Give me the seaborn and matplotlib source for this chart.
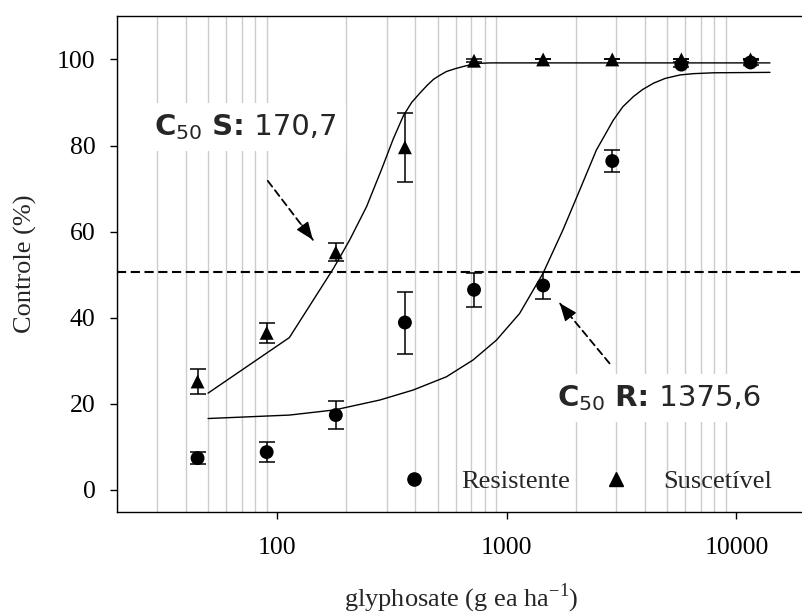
import matplotlib
matplotlib.use("Agg")
import matplotlib.pyplot as plt
import numpy as np
import pandas as pd
import seaborn as sns
from matplotlib.lines import Line2D
from matplotlib.offsetbox import AnnotationBbox, HPacker, TextArea
from matplotlib.ticker import FixedLocator, LogLocator, NullFormatter

# ---------------------------------------------------------------------------
# data
# ---------------------------------------------------------------------------
doses = [45, 90, 180, 360, 720, 1440, 2880, 5760, 11520]

res_mean = [7.4, 8.8, 17.4, 38.9, 46.5, 47.5, 76.4, 98.8, 99.3]
res_err = [1.4, 2.4, 3.2, 7.2, 3.9, 3.2, 2.5, 0.6, 0.5]

sus_mean = [25.2, 36.5, 55.2, 79.6, 99.7, 100.0, 100.0, 100.0, 100.0]
sus_err = [2.8, 2.3, 2.1, 8.0, 0.4, 0.0, 0.0, 0.0, 0.0]

# fitted dose-response curves
sus_curve_x = [50, 113, 176, 207, 245, 285, 320, 355, 385, 417, 450, 480,
               510, 546, 600, 650, 700, 761, 850, 14000]
sus_curve_y = [22.5, 35.4, 51.5, 58.1, 65.8, 74.5, 81.5, 87.0, 90.0, 92.1,
               94.0, 95.4, 96.3, 97.2, 97.9, 98.4, 98.8, 99.1, 99.2, 99.2]

res_curve_x = [50, 113, 178, 280, 390, 546, 713, 901, 1137, 1437, 1756,
               2079, 2458, 2910, 3200, 3563, 3900, 4360, 4900, 5680, 6500,
               7940, 14000]
res_curve_y = [16.6, 17.4, 18.6, 20.9, 23.2, 26.3, 30.2, 34.8, 41.0, 50.3,
               60.4, 69.7, 79.0, 85.9, 89.0, 91.4, 93.0, 94.5, 95.6, 96.4,
               96.7, 96.9, 97.0]

c50_level = 50.6
labels = ["Resistente", "Suscetível"]

# ---------------------------------------------------------------------------
# style
# ---------------------------------------------------------------------------
sns.set_theme(style="ticks")
plt.rcParams["font.family"] = ["Liberation Serif", "DejaVu Serif"]
plt.rcParams["mathtext.fontset"] = "custom"
plt.rcParams["mathtext.rm"] = "Liberation Serif"
plt.rcParams["mathtext.sf"] = "DejaVu Sans"
plt.rcParams["mathtext.bf"] = "DejaVu Sans:bold"

fig = plt.figure(figsize=(8.02, 6.14), dpi=100)
ax = fig.add_axes([0.1455, 0.1669, 0.8589, 0.8064])

# fitted curves
curves = pd.concat([
    pd.DataFrame({"dose": sus_curve_x, "ctrl": sus_curve_y, "grp": "S"}),
    pd.DataFrame({"dose": res_curve_x, "ctrl": res_curve_y, "grp": "R"}),
])
sns.lineplot(data=curves, x="dose", y="ctrl", units="grp", estimator=None,
             color="black", lw=1.0, sort=False, ax=ax, zorder=3)

# C50 reference line
ax.axhline(c50_level, color="black", lw=1.5, ls=(0, (4.4, 2.2)), zorder=2)

# observed means with error bars
ax.errorbar(doses, res_mean, yerr=res_err, fmt="none", ecolor="black",
            elinewidth=1.1, capsize=6, capthick=1.1, zorder=4)
ax.errorbar(doses, sus_mean, yerr=sus_err, fmt="none", ecolor="black",
            elinewidth=1.1, capsize=6, capthick=1.1, zorder=4)
pts = pd.DataFrame({
    "dose": doses * 2,
    "ctrl": res_mean + sus_mean,
    "grp": [labels[0]] * len(doses) + [labels[1]] * len(doses),
})
sns.scatterplot(data=pts, x="dose", y="ctrl", style="grp",
                markers={labels[0]: "o", labels[1]: "^"}, color="black",
                s=100, edgecolor="none", legend=False, ax=ax, zorder=5)

# axes
ax.set_xscale("log")
ax.set_xlim(20, 20000)
ax.set_ylim(-5, 110)
ax.xaxis.set_major_locator(FixedLocator([100, 1000, 10000]))
ax.set_xticklabels(["100", "1000", "10000"])
ax.xaxis.set_minor_locator(LogLocator(base=10, subs=np.arange(2, 10)))
ax.xaxis.set_minor_formatter(NullFormatter())
ax.set_yticks([0, 20, 40, 60, 80, 100])
ax.grid(which="minor", axis="x", color="#cccccc", lw=1.0, zorder=0)
ax.grid(which="major", visible=False)
ax.tick_params(axis="x", which="minor", length=0)
ax.tick_params(axis="x", which="major", direction="out", length=5.3,
               width=1.0, labelsize=18.5, pad=13, colors="black")
ax.tick_params(axis="y", direction="out", length=5.3, width=1.0,
               labelsize=18.5, pad=10, colors="black")
for side in ["left", "bottom", "top"]:
    ax.spines[side].set_color("black")
    ax.spines[side].set_linewidth(1.0)
ax.spines["right"].set_visible(False)

ax.set_xlabel(r"glyphosate (g ea ha$^{\mathrm{-1}}$)", fontsize=19, labelpad=16)
ax.set_ylabel("Controle (%)", fontsize=19, labelpad=14)


# C50 labels (white boxes hide the grid behind them) and arrows
def c50_label(letter, value, xy):
    fs = 21
    parts = [
        TextArea(r"$\mathbf{C}_{\mathsf{50}}$", textprops=dict(fontsize=fs)),
        TextArea(" " + letter + ":", textprops=dict(fontsize=fs, family="DejaVu Sans",
                                                    weight="bold")),
        TextArea(" " + value, textprops=dict(fontsize=fs, family="DejaVu Sans")),
    ]
    pack = HPacker(children=parts, align="baseline", pad=0, sep=0)
    ab = AnnotationBbox(pack, xy, xycoords="data", frameon=True,
                        box_alignment=(0.5, 0.5), pad=0.42, fontsize=fs,
                        bboxprops=dict(boxstyle="square", fc="white", ec="none"),
                        zorder=3)
    ax.add_artist(ab)


def dashed_arrow(tail, tip, head_from):
    # dashed shaft, then a solid filled head on the last stretch
    ax.annotate("", xy=tip, xytext=tail, zorder=6,
                arrowprops=dict(arrowstyle="-", color="black", lw=1.3,
                                ls=(0, (4, 2.5)), shrinkA=0, shrinkB=0))
    ax.annotate("", xy=tip, xytext=head_from, zorder=6,
                arrowprops=dict(arrowstyle="-|>,head_length=0.55,head_width=0.22",
                                color="black", lw=1.0, mutation_scale=20,
                                shrinkA=0, shrinkB=0))


c50_label("S", "170,7", (73, 84.3))
c50_label("R", "1375,6", (4600, 21.4))

dashed_arrow((91, 71.8), (143, 58.1), (128, 61.6))
dashed_arrow((2803, 29.4), (1700, 43.4), (1890, 40.3))

# legend
handles = [
    Line2D([], [], ls="none", marker="o", color="black", markersize=9.5),
    Line2D([], [], ls="none", marker="^", color="black", markersize=9.5),
]
ax.legend(handles, labels, ncol=2, frameon=False, fontsize=19,
          loc="center right", bbox_to_anchor=(0.951, 0.0616),
          borderaxespad=0, borderpad=0, handlelength=1.0,
          handletextpad=1.28, columnspacing=1.24)

fig.savefig("out.png", dpi=100)
